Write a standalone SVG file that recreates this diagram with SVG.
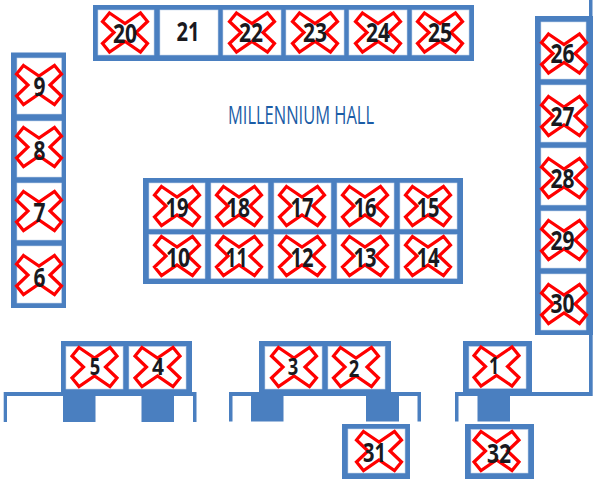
<svg xmlns="http://www.w3.org/2000/svg" width="600" height="486" viewBox="0 0 600 486">
<style>
.f{fill:#4a7fc0}
.c{fill:#fff;stroke:#c5d6ec;stroke-width:.6}
.x{fill:none;stroke:#ff0000;stroke-width:3.2;stroke-linejoin:miter}
.n{font-family:"Open Sans","DejaVu Sans",sans-serif;font-weight:700;font-size:27px;fill:#1a1a1f;text-anchor:middle}
.s{font-size:24px}
.t{font-family:"Open Sans","DejaVu Sans",sans-serif;font-weight:400;font-size:25px;fill:#1a5ca6}
</style>
<defs>
<polygon id="k" points="-15.5,-19.500 0,-9 15.5,-19.500 22.500,-11 11,0 22.500,11 15.500,19.500 0,9 -15.500,19.500 -22.500,11 -11,0 -22.500,-11"/>
</defs>
<rect width="600" height="486" fill="#fff"/>
<g id="connectors">
<rect class="f" x="93" y="5" width="381" height="56"/>
<rect class="f" x="11" y="52.500" width="55" height="255.500"/>
<rect class="f" x="143" y="178" width="320" height="106"/>
<rect class="f" x="535" y="16" width="58" height="319"/>
<rect class="f" x="589" y="0" width="3.500" height="16"/>
<rect class="f" x="589" y="335" width="3.700" height="61"/>
<rect class="f" x="61" y="341" width="131" height="55"/>
<rect class="f" x="259" y="341" width="132" height="55"/>
<rect class="f" x="463" y="341" width="69" height="55"/>
<rect class="f" x="342" y="424" width="68" height="55"/>
<rect class="f" x="465" y="424" width="69" height="55"/>
<path class="f" d="M3.700 392H196.500V422H193V396H7V422H3.700Z"/>
<rect class="f" x="63" y="396" width="32.500" height="26"/>
<rect class="f" x="141.500" y="396" width="32.500" height="26"/>
<path class="f" d="M229 392H421V421.500H417.500V396H232.500V421.500H229Z"/>
<rect class="f" x="251" y="396" width="32.500" height="25.500"/>
<rect class="f" x="366" y="396" width="33" height="25.500"/>
<path class="f" d="M455 392H592V396H458.500V421.500H455Z"/>
<rect class="f" x="477.500" y="396" width="32.500" height="25.500"/>
</g>
<g id="s20"><rect class="c" x="98" y="10" width="56" height="45"/><use href="#k" class="x" x="125" y="32.500"/><text class="n" x="125" y="43" textLength="24" lengthAdjust="spacingAndGlyphs">20</text></g>
<g id="s21"><rect class="c" x="160" y="10" width="58" height="45"/><text class="n" x="188" y="41" textLength="23" lengthAdjust="spacingAndGlyphs">21</text></g>
<g id="s22"><rect class="c" x="223" y="10" width="58" height="45"/><use href="#k" class="x" x="252" y="32.500"/><text class="n" x="251" y="41.500" textLength="24" lengthAdjust="spacingAndGlyphs">22</text></g>
<g id="s23"><rect class="c" x="286" y="10" width="58" height="45"/><use href="#k" class="x" x="315" y="32.500"/><text class="n" x="315" y="41.500" textLength="24" lengthAdjust="spacingAndGlyphs">23</text></g>
<g id="s24"><rect class="c" x="349" y="10" width="58" height="45"/><use href="#k" class="x" x="378" y="32.500"/><text class="n" x="378" y="41.500" textLength="24" lengthAdjust="spacingAndGlyphs">24</text></g>
<g id="s25"><rect class="c" x="412" y="10" width="57" height="45"/><use href="#k" class="x" x="440" y="32.500"/><text class="n" x="440" y="41.500" textLength="24" lengthAdjust="spacingAndGlyphs">25</text></g>
<g id="s9"><rect class="c" x="17" y="58" width="44.500" height="56"/><use href="#k" class="x" x="39" y="85"/><text class="n" x="39.500" y="96" textLength="12" lengthAdjust="spacingAndGlyphs">9</text></g>
<g id="s8"><rect class="c" x="17" y="121" width="44.500" height="56"/><use href="#k" class="x" x="39" y="147"/><text class="n" x="39.500" y="160" textLength="12" lengthAdjust="spacingAndGlyphs">8</text></g>
<g id="s7"><rect class="c" x="17" y="183" width="44.500" height="57"/><use href="#k" class="x" x="39" y="211"/><text class="n" x="39.500" y="222" textLength="12" lengthAdjust="spacingAndGlyphs">7</text></g>
<g id="s6"><rect class="c" x="17" y="246" width="44.500" height="57"/><use href="#k" class="x" x="39" y="275"/><text class="n" x="39.500" y="287" textLength="12" lengthAdjust="spacingAndGlyphs">6</text></g>
<g id="s19"><rect class="c" x="149" y="183" width="56" height="46"/><use href="#k" class="x" x="177" y="206"/><text class="n" x="177" y="217" textLength="23" lengthAdjust="spacingAndGlyphs">19</text></g>
<g id="s18"><rect class="c" x="211" y="183" width="57" height="46"/><use href="#k" class="x" x="239" y="206"/><text class="n" x="238" y="217" textLength="24" lengthAdjust="spacingAndGlyphs">18</text></g>
<g id="s17"><rect class="c" x="274" y="183" width="57" height="46"/><use href="#k" class="x" x="302" y="206"/><text class="n" x="302" y="217" textLength="23" lengthAdjust="spacingAndGlyphs">17</text></g>
<g id="s16"><rect class="c" x="337" y="183" width="57" height="46"/><use href="#k" class="x" x="365" y="206"/><text class="n" x="365" y="217" textLength="23" lengthAdjust="spacingAndGlyphs">16</text></g>
<g id="s15"><rect class="c" x="400" y="183" width="57" height="46"/><use href="#k" class="x" x="428" y="206"/><text class="n" x="428" y="217" textLength="23" lengthAdjust="spacingAndGlyphs">15</text></g>
<g id="s10"><rect class="c" x="149" y="234.500" width="56" height="44"/><use href="#k" class="x" x="177" y="256"/><text class="n" x="178" y="267" textLength="24" lengthAdjust="spacingAndGlyphs">10</text></g>
<g id="s11"><rect class="c" x="211" y="234.500" width="57" height="44"/><use href="#k" class="x" x="239" y="256"/><text class="n" x="236.500" y="267" textLength="22" lengthAdjust="spacingAndGlyphs">11</text></g>
<g id="s12"><rect class="c" x="274" y="234.500" width="57" height="44"/><use href="#k" class="x" x="302" y="256"/><text class="n" x="302" y="267" textLength="23" lengthAdjust="spacingAndGlyphs">12</text></g>
<g id="s13"><rect class="c" x="337" y="234.500" width="57" height="44"/><use href="#k" class="x" x="365" y="256"/><text class="n" x="365" y="267" textLength="23" lengthAdjust="spacingAndGlyphs">13</text></g>
<g id="s14"><rect class="c" x="400" y="234.500" width="57" height="44"/><use href="#k" class="x" x="428" y="256"/><text class="n" x="428" y="267" textLength="23" lengthAdjust="spacingAndGlyphs">14</text></g>
<g id="s26"><rect class="c" x="541" y="22" width="45" height="57"/><use href="#k" class="x" x="564" y="53.500"/><text class="n" x="562.500" y="63" textLength="24" lengthAdjust="spacingAndGlyphs">26</text></g>
<g id="s27"><rect class="c" x="541" y="85" width="45" height="57"/><use href="#k" class="x" x="564" y="116"/><text class="n" x="562.500" y="126" textLength="24" lengthAdjust="spacingAndGlyphs">27</text></g>
<g id="s28"><rect class="c" x="541" y="148" width="45" height="57"/><use href="#k" class="x" x="564" y="178"/><text class="n" x="562.500" y="188" textLength="24" lengthAdjust="spacingAndGlyphs">28</text></g>
<g id="s29"><rect class="c" x="541" y="211" width="45" height="57"/><use href="#k" class="x" x="564" y="240"/><text class="n" x="562.500" y="250" textLength="24" lengthAdjust="spacingAndGlyphs">29</text></g>
<g id="s30"><rect class="c" x="541" y="274" width="45" height="56"/><use href="#k" class="x" x="564" y="304"/><text class="n" x="562.500" y="313" textLength="24" lengthAdjust="spacingAndGlyphs">30</text></g>
<g id="s5"><rect class="c" x="66" y="346.500" width="57" height="42.500"/><use href="#k" class="x" x="94.500" y="367"/><text class="n s" x="95" y="375" textLength="10.500" lengthAdjust="spacingAndGlyphs">5</text></g>
<g id="s4"><rect class="c" x="129" y="346.500" width="57" height="42.500"/><use href="#k" class="x" x="157.500" y="367"/><text class="n s" x="158" y="374.500" textLength="12" lengthAdjust="spacingAndGlyphs">4</text></g>
<g id="s3"><rect class="c" x="265" y="346.500" width="57" height="42.500"/><use href="#k" class="x" x="294" y="367"/><text class="n s" x="293" y="375" textLength="10.500" lengthAdjust="spacingAndGlyphs">3</text></g>
<g id="s2"><rect class="c" x="328" y="346.500" width="57" height="42.500"/><use href="#k" class="x" x="356" y="367"/><text class="n s" x="354" y="377" textLength="10.500" lengthAdjust="spacingAndGlyphs">2</text></g>
<g id="s1"><rect class="c" x="469" y="346.500" width="57" height="42"/><use href="#k" class="x" x="496.500" y="366.500"/><text class="n s" x="494" y="374" textLength="10" lengthAdjust="spacingAndGlyphs">1</text></g>
<g id="s31"><rect class="c" x="348" y="429" width="57" height="44"/><use href="#k" class="x" x="379" y="451"/><text class="n" x="374.500" y="462" textLength="23" lengthAdjust="spacingAndGlyphs">31</text></g>
<g id="s32"><rect class="c" x="471" y="429.500" width="57" height="43.500"/><use href="#k" class="x" x="496.500" y="451"/><text class="n" x="499" y="463" textLength="24" lengthAdjust="spacingAndGlyphs">32</text></g>
<text id="title" class="t" x="228" y="124" textLength="146" lengthAdjust="spacingAndGlyphs">MILLENNIUM HALL</text>
</svg>
